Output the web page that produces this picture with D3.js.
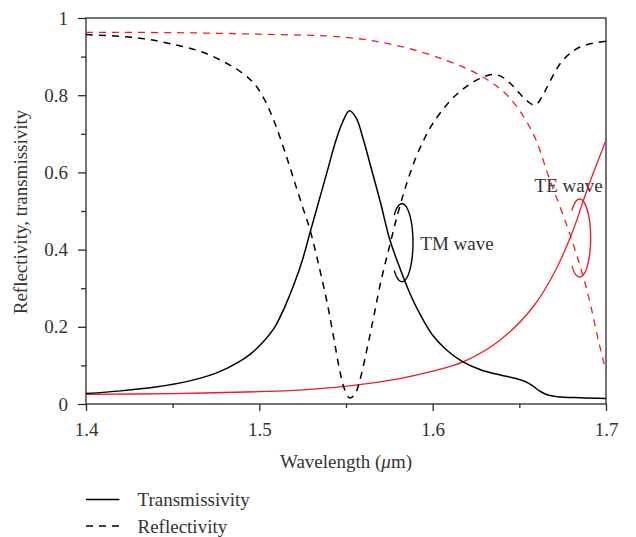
<!DOCTYPE html>
<html>
<head>
<meta charset="utf-8">
<script src="https://cdn.jsdelivr.net/npm/d3@7"></script>
<style>
  body { margin: 0; background: #fff; }
  svg { display: block; }
  text { font-family: "Liberation Serif", "Times New Roman", serif; fill: #333; }
</style>
</head>
<body>
<svg id="chart" width="636" height="537"></svg>
<script>
// Spectra of the grating: [wavelength in um, value]
const tmTransmissivity = [
  [1.400, 0.027], [1.420, 0.034], [1.440, 0.044], [1.458, 0.058], [1.475, 0.080],
  [1.487, 0.106], [1.495, 0.130], [1.502, 0.160], [1.509, 0.200], [1.515, 0.255],
  [1.520, 0.310], [1.525, 0.375], [1.529, 0.440], [1.534, 0.520], [1.539, 0.600],
  [1.544, 0.680], [1.548, 0.730], [1.552, 0.760], [1.556, 0.740], [1.560, 0.685],
  [1.564, 0.620], [1.570, 0.520], [1.575, 0.430], [1.580, 0.365], [1.587, 0.285],
  [1.593, 0.230], [1.600, 0.178], [1.608, 0.140], [1.6175, 0.109], [1.628, 0.088],
  [1.639, 0.075], [1.648, 0.066], [1.654, 0.057], [1.658, 0.046], [1.662, 0.033],
  [1.666, 0.024], [1.672, 0.019], [1.685, 0.016], [1.700, 0.014]
];
const tmReflectivity = [
  [1.400, 0.957], [1.429, 0.949], [1.448, 0.934], [1.467, 0.912], [1.483, 0.878],
  [1.490, 0.858], [1.496, 0.835], [1.500, 0.812], [1.505, 0.770], [1.510, 0.715],
  [1.515, 0.650], [1.520, 0.580], [1.525, 0.510], [1.529, 0.455], [1.534, 0.365],
  [1.539, 0.265], [1.543, 0.170], [1.546, 0.095], [1.549, 0.040], [1.552, 0.016],
  [1.555, 0.024], [1.558, 0.062], [1.562, 0.140], [1.566, 0.226], [1.570, 0.315],
  [1.575, 0.407], [1.580, 0.495], [1.585, 0.571], [1.590, 0.635], [1.595, 0.685],
  [1.600, 0.726], [1.610, 0.785], [1.619, 0.821], [1.627, 0.843], [1.635, 0.854],
  [1.641, 0.845], [1.646, 0.825], [1.654, 0.787], [1.659, 0.774], [1.663, 0.795],
  [1.667, 0.830], [1.675, 0.890], [1.685, 0.925], [1.700, 0.940]
];
const teReflectivity = [
  [1.400, 0.963], [1.450, 0.962], [1.500, 0.958], [1.550, 0.950], [1.580, 0.928],
  [1.608, 0.890], [1.629, 0.847], [1.644, 0.795], [1.658, 0.700], [1.667, 0.588],
  [1.679, 0.442], [1.689, 0.295], [1.696, 0.157], [1.700, 0.085]
];
const teTransmissivity = [
  [1.400, 0.025], [1.450, 0.027], [1.500, 0.032], [1.515, 0.034], [1.552, 0.047],
  [1.581, 0.066], [1.600, 0.085], [1.6175, 0.109], [1.639, 0.166], [1.658, 0.252],
  [1.671, 0.347], [1.681, 0.450], [1.689, 0.554], [1.700, 0.683]
];

const xMajorTicks = [1.4, 1.5, 1.6, 1.7];
const xMinorTicks = [1.45, 1.55, 1.65];
const yMajorTicks = [0, 0.2, 0.4, 0.6, 0.8, 1];
const yMinorTicks = [0.1, 0.3, 0.5, 0.7, 0.9];
const yTickLabels = ["0", "0.2", "0.4", "0.6", "0.8", "1"];

const legendItems = [
  { label: "Transmissivity", dash: null },
  { label: "Reflectivity", dash: "7,6" }
];

// Mode labels with their bracket ellipses (centre in data units)
const modeNotes = [
  { label: "TM wave", color: "#000", cx: 1.5823, cy: 0.418, tx: 1.5929, ty: 0.400 },
  { label: "TE wave", color: "#ee1c24", cx: 1.6848, cy: 0.430, tx: 1.6588, ty: 0.549 }
];

const width = 636, height = 537;
const margin = { left: 86, right: 30, top: 18, bottom: 133 };
const fontSize = 19;

const svg = d3.select("#chart");

const x = d3.scaleLinear().domain([1.4, 1.7]).range([margin.left, width - margin.right]);
const y = d3.scaleLinear().domain([0, 1]).range([height - margin.bottom, margin.top]);

const red = "#ee1c24";
const axisColor = "#2b2b2b";

// Axes
const gx = svg.append("g").attr("transform", `translate(0,${y(0)})`)
  .call(d3.axisBottom(x).tickValues(xMajorTicks).tickSize(7).tickPadding(12)
    .tickFormat(d3.format(".1f")));
const gxMinor = svg.append("g").attr("transform", `translate(0,${y(0)})`)
  .call(d3.axisBottom(x).tickValues(xMinorTicks).tickSize(4).tickFormat(""));
const gy = svg.append("g").attr("transform", `translate(${x(1.4)},0)`)
  .call(d3.axisLeft(y).tickValues(yMajorTicks).tickSize(8).tickPadding(10)
    .tickFormat((d, i) => yTickLabels[i]));
const gyMinor = svg.append("g").attr("transform", `translate(${x(1.4)},0)`)
  .call(d3.axisLeft(y).tickValues(yMinorTicks).tickSize(5).tickFormat(""));

[gx, gxMinor, gy, gyMinor].forEach(g => {
  g.select(".domain").remove();
  g.selectAll("line").attr("stroke", axisColor).attr("stroke-width", 1.3);
  g.selectAll("text").attr("font-size", fontSize)
    .attr("font-family", "Liberation Serif, Times New Roman, serif").attr("fill", "#333");
});

// Plot frame
svg.append("rect")
  .attr("x", x(1.4)).attr("y", y(1))
  .attr("width", x(1.7) - x(1.4)).attr("height", y(0) - y(1))
  .attr("fill", "none").attr("stroke", axisColor).attr("stroke-width", 1.3);

// Mode labels (drawn under the curves)
modeNotes.forEach(n => {
  svg.append("text").attr("x", x(n.tx)).attr("y", y(n.ty))
    .attr("font-size", fontSize).text(n.label);
});

const line = d3.line().x(d => x(d[0])).y(d => y(d[1])).curve(d3.curveCatmullRom.alpha(0.5));

const series = [
  { data: teTransmissivity, color: red, dash: null, w: 1.3 },
  { data: teReflectivity, color: red, dash: "7,6", w: 1.3 },
  { data: tmTransmissivity, color: "#000", dash: null, w: 1.5 },
  { data: tmReflectivity, color: "#000", dash: "7,6", w: 1.5 }
];
series.forEach(s => {
  svg.append("path").datum(s.data)
    .attr("d", line)
    .attr("fill", "none")
    .attr("stroke", s.color)
    .attr("stroke-width", s.w)
    .attr("stroke-dasharray", s.dash);
});

// Bracket ellipses, open on the left where the curves pass through
const rx = 11, ry = 39, gap = 45 * Math.PI / 180;
modeNotes.forEach(n => {
  const cx = x(n.cx), cy = y(n.cy);
  const pts = d3.range(-Math.PI + gap, Math.PI - gap + 0.001, 0.05).map(a => {
    // angle measured from the right-hand extreme
    return [cx - rx * Math.cos(a + Math.PI), cy - ry * Math.sin(a + Math.PI)];
  });
  svg.append("path")
    .attr("d", d3.line().curve(d3.curveLinear)(pts))
    .attr("fill", "none").attr("stroke", n.color).attr("stroke-width", 1.4);
});

// Axis titles
svg.append("text")
  .attr("x", (x(1.4) + x(1.7)) / 2).attr("y", 468)
  .attr("text-anchor", "middle").attr("font-size", fontSize)
  .call(t => {
    t.append("tspan").text("Wavelength (");
    t.append("tspan").attr("font-style", "italic").text("μ");
    t.append("tspan").text("m)");
  });

svg.append("text")
  .attr("transform", `translate(27,${(y(0) + y(1)) / 2 + 1}) rotate(-90)`)
  .attr("text-anchor", "middle").attr("font-size", fontSize)
  .text("Reflectivity, transmissivity");

// Legend
const legend = svg.append("g");
legendItems.forEach((item, i) => {
  const ly = 499.5 + i * 26.5;
  legend.append("line")
    .attr("x1", 86).attr("x2", 119.5).attr("y1", ly).attr("y2", ly)
    .attr("stroke", "#000").attr("stroke-width", 1.4)
    .attr("stroke-dasharray", item.dash);
  legend.append("text").attr("x", 137.5).attr("y", ly + 6.8)
    .attr("font-size", fontSize).text(item.label);
});
</script>
</body>
</html>
